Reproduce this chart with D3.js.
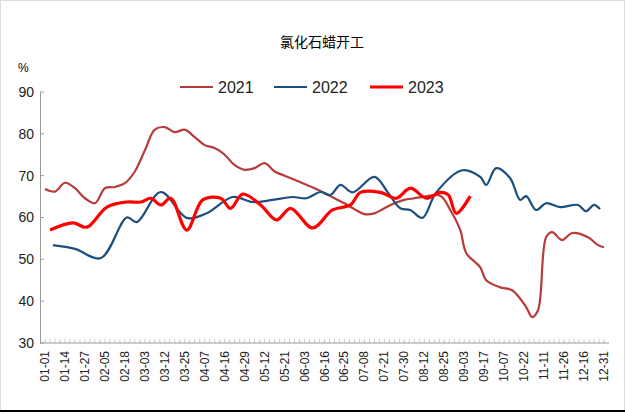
<!DOCTYPE html>
<html><head><meta charset="utf-8">
<script src="https://cdn.jsdelivr.net/npm/d3@7"></script>
<style>body{margin:0;background:#fff}</style></head>
<body><svg id="c" width="625" height="416"></svg>
<script>
const tickLabels=["01-01","01-14","01-27","02-05","02-18","03-03","03-12","03-25","04-07","04-16","04-29","05-12","05-21","06-03","06-16","06-25","07-08","07-21","07-30","08-12","08-25","09-03","09-17","10-07","10-22","11-11","11-26","12-16","12-31"];
const yTicks=[30,40,50,60,70,80,90];
// positions in label-index units
const t2021=[0,0.5,1,1.5,2,2.5,3,3.5,4,4.5,5,5.5,6,6.5,7,7.5,8,8.5,9,9.5,10,10.5,11,11.5,12,12.5,13,13.5,14,14.5,15,15.5,16,16.5,17,17.5,18,18.5,19,19.8,20.3,20.8,21.1,21.8,22.1,22.8,23.4,24.1,24.4,24.7,25.1,25.4,25.9,26.4,27.2,27.7,28];
const v2021=[66.8,66.2,68.3,67,64.6,63.4,67,67.3,68.2,71,76,81,81.6,80.4,81,79.2,77.3,76.6,75,72.5,71.4,71.8,73,71,70,69,68,67,65.8,64.6,63.4,62,60.8,61,62.2,63.4,64.2,64.6,65,65.2,61.8,57,51.5,48.1,45,43.3,42.6,38.6,36.2,37.9,55.3,56.5,54.6,56.3,55.3,53.4,52.9];
const t2022=[0.4,1.5,2.8,4.1,4.6,5.8,7.1,8.1,9.4,10.4,11.4,12.4,13.1,13.8,14.3,14.8,15.4,16.5,17.2,17.8,18.3,18.9,19.6,20.9,21.8,22.1,22.6,23.3,23.8,24.1,24.6,25.1,25.8,26.7,27.1,27.5,27.8];
const v2022=[53.4,52.5,50.3,60,58.9,66.1,59.9,61,64.9,63.7,64.2,64.9,64.6,66.1,65.4,67.8,66,69.7,65.8,62.2,61.8,59.9,66,71.3,69.7,67.8,71.8,69.4,64.2,65.1,61.8,63.4,62.5,63,61.5,63,62];
const t2023=[0.25,1.4,2.1,3.1,4.1,4.8,5.3,5.8,6.3,7.1,7.9,8.8,9.3,9.9,10.8,11.6,12.3,13.4,14.4,15.3,15.8,16.8,17.6,18.3,19.1,19.8,20.2,20.6,21.3];
const v2023=[57,58.7,57.7,62.5,63.7,63.7,64.6,63,64.6,57,64.2,64.6,62.2,65.6,63,59.4,62.2,57.5,61.8,63,66,66,64.6,67,64.6,66,65.4,61,65.1];
const series=[
 {name:"2021",t:t2021,v:v2021,color:"#B83B3B",w:2.2},
 {name:"2022",t:t2022,v:v2022,color:"#1B4F7E",w:2.2},
 {name:"2023",t:t2023,v:v2023,color:"#FF0000",w:3.2}];
const svg=d3.select("#c");
svg.append("rect").attr("x",0.5).attr("y",0.5).attr("width",624).attr("height",410).attr("fill","none").attr("stroke","#ddd");
svg.append("line").attr("x1",0).attr("x2",625).attr("y1",411).attr("y2",411).attr("stroke","#000").attr("stroke-width",2);
const x=d3.scaleLinear().domain([0,28]).range([45,604]);
const y=d3.scaleLinear().domain([30,90]).range([343,92]);
svg.append("text").attr("x",322).attr("y",47).attr("text-anchor","middle").attr("font-family","Noto Sans CJK SC").attr("font-size",14).text("氯化石蜡开工");
svg.append("text").attr("x",18).attr("y",72).attr("font-family","Liberation Sans").attr("font-size",12).text("%");
const ya=svg.append("g").attr("transform","translate(40,0)").call(d3.axisLeft(y).tickValues(yTicks).tickSize(0).tickPadding(6));
ya.select(".domain").attr("stroke","#999");
ya.selectAll("text").attr("font-family","Liberation Sans").attr("font-size",14).attr("fill","#222");
ya.selectAll(".yt").data(yTicks).enter().append("line").attr("x1",0).attr("x2",4).attr("y1",d=>y(d)).attr("y2",d=>y(d)).attr("stroke","#999");
const xa=svg.append("g").attr("transform","translate(0,343)");
xa.append("line").attr("x1",40).attr("x2",609).attr("stroke","#999");
xa.selectAll(".mt").data(d3.range(0,28.01,0.25)).enter().append("line").attr("x1",d=>x(d)).attr("x2",d=>x(d)).attr("y1",0).attr("y2",-4).attr("stroke","#aaa").attr("stroke-width",0.6);
xa.selectAll(".lb").data(tickLabels).enter().append("text")
 .attr("transform",(d,i)=>`translate(${x(i)+4},8) rotate(-90)`).attr("text-anchor","end")
 .attr("font-family","Liberation Sans").attr("font-size",12).attr("fill","#222").text(d=>d);
const line=d3.line().curve(d3.curveCatmullRom.alpha(0.5));
series.forEach(s=>{
 svg.append("path").attr("d",line(s.t.map((t,i)=>[x(t),y(s.v[i])]))).attr("fill","none").attr("stroke",s.color).attr("stroke-width",s.w).attr("stroke-linejoin","round");
});
const lx=[180,274,370];
series.forEach((s,i)=>{
 svg.append("line").attr("x1",lx[i]).attr("x2",lx[i]+33).attr("y1",87).attr("y2",87).attr("stroke",s.color).attr("stroke-width",s.w);
 svg.append("text").attr("x",lx[i]+38).attr("y",93).attr("font-family","Liberation Sans").attr("font-size",16).attr("fill","#222").text(s.name);
});
</script></body></html>
